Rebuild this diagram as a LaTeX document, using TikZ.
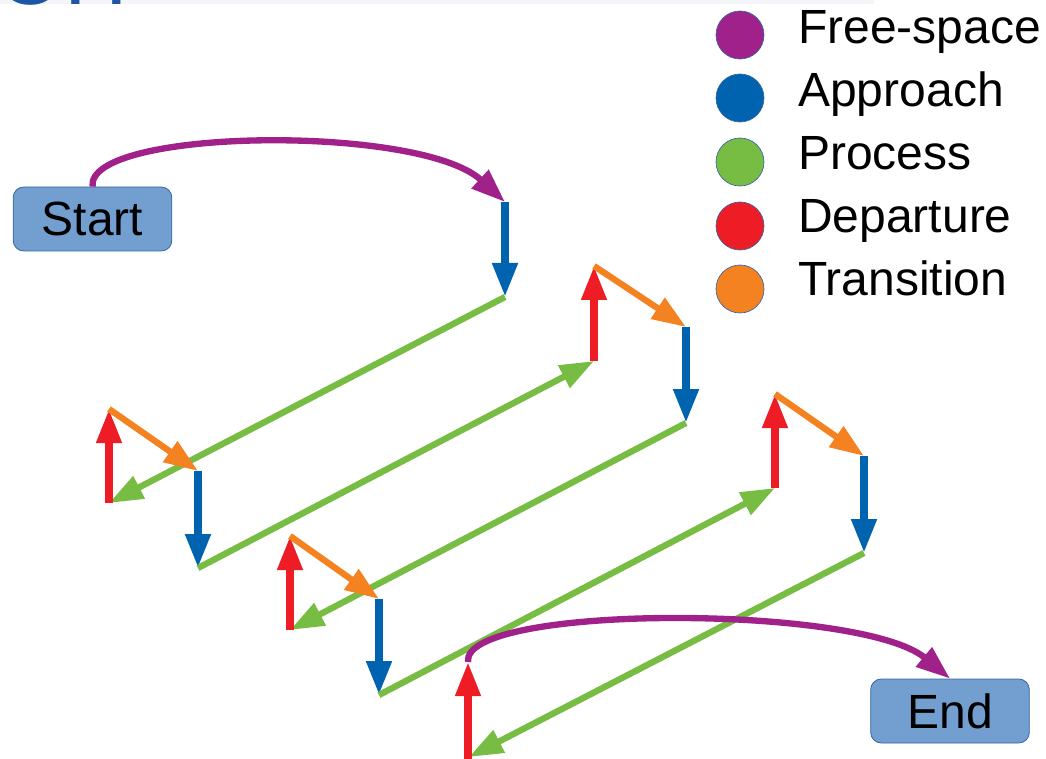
\documentclass[tikz,border=0pt]{standalone}
\usepackage{fontspec}
\setmainfont{Liberation Sans}
\usetikzlibrary{arrows.meta}
\definecolor{cfree}{HTML}{A1218B}
\definecolor{cappr}{HTML}{0063B0}
\definecolor{cproc}{HTML}{77BC43}
\definecolor{cdep}{HTML}{EE1C25}
\definecolor{ctrans}{HTML}{F58220}
\definecolor{boxfill}{HTML}{729FCF}
\definecolor{boxline}{HTML}{3465A4}
\definecolor{titleblue}{HTML}{1F55A5}
\definecolor{bandgray}{HTML}{F3F5F9}
\begin{document}
\begin{tikzpicture}[x=0.75pt,y=-0.75pt,
  tipped/.style={-{Triangle[length=25.5pt,width=18pt]}},
  freespace/.style={tipped,draw=cfree,line width=4.75pt},
  approach/.style={tipped,draw=cappr,line width=5.75pt},
  process/.style={tipped,draw=cproc,line width=4.75pt},
  departure/.style={tipped,draw=cdep,line width=5.5pt},
  transition/.style={tipped,draw=ctrans,line width=4.75pt},
  termbox/.style={draw=boxline,fill=boxfill,rounded corners=8pt,line width=0.6pt,
    minimum width=119pt,minimum height=48pt,inner sep=0pt,
    font=\fontsize{36}{42}\selectfont},
  legdot/.style={circle,draw=boxline,line width=0.5pt,minimum size=36pt,inner sep=0pt},
  legtext/.style={anchor=base west,inner sep=0pt,font=\fontsize{36}{42}\selectfont}]
\useasboundingbox (0,0) rectangle (1046,759);
% top strip with cut-off title
\fill[bandgray] (0,0) rectangle (874,4);
\begin{scope}
  \clip (0,0) rectangle (300,7);
  \node[anchor=base west,inner sep=0pt,text=titleblue,font=\fontsize{66}{70}\selectfont] (title) at (-4,5) {OH};
\end{scope}
% terminals
\node[termbox] (start) at (92.5,219) {Start};
\node[termbox] (end) at (950,711) {End};
% legend
\node[legdot,fill=cfree]  (leg1) at (740,35) {};
\node[legdot,fill=cappr]  (leg2) at (740,98) {};
\node[legdot,fill=cproc]  (leg3) at (740,162) {};
\node[legdot,fill=cdep]   (leg4) at (740,226) {};
\node[legdot,fill=ctrans] (leg5) at (740,289) {};
\node[legtext] (lt1) at (798,44) {Free-space};
\node[legtext] (lt2) at (798,107) {Approach};
\node[legtext] (lt3) at (798,170) {Process};
\node[legtext] (lt4) at (798,233) {Departure};
\node[legtext] (lt5) at (798,296) {Transition};
% waypoints
\coordinate (a1) at (505,202);
\coordinate (a2) at (505,297);
\coordinate (b1) at (109,503);
\coordinate (b2) at (109,409);
\coordinate (b3) at (198,471);
\coordinate (b4) at (198,568);
\coordinate (c1) at (594,361);
\coordinate (c2) at (594,266);
\coordinate (c3) at (686,327);
\coordinate (c4) at (686,423);
\coordinate (d1) at (290,630);
\coordinate (d2) at (290,536);
\coordinate (d3) at (379,599);
\coordinate (d4) at (379,695);
\coordinate (e1) at (775,488);
\coordinate (e2) at (775,394);
\coordinate (e3) at (864,456);
\coordinate (e4) at (864,553);
\coordinate (f1) at (469,757);
\coordinate (f0) at (468,762);
\coordinate (f2) at (468,662);
% path
\draw[freespace] (start.north) .. controls (86,128) and (420,124) .. (a1);
\draw[approach] (a1) -- (a2);
\draw[process] (a2) -- (b1);
\draw[departure] (b1) -- (b2);
\draw[transition] (b2) -- (b3);
\draw[approach] (b3) -- (b4);
\draw[process] (b4) -- (c1);
\draw[departure] (c1) -- (c2);
\draw[transition] (c2) -- (c3);
\draw[approach] (c3) -- (c4);
\draw[process] (c4) -- (d1);
\draw[departure] (d1) -- (d2);
\draw[transition] (d2) -- (d3);
\draw[approach] (d3) -- (d4);
\draw[process] (d4) -- (e1);
\draw[departure] (e1) -- (e2);
\draw[transition] (e2) -- (e3);
\draw[approach] (e3) -- (e4);
\draw[process] (e4) -- (f1);
\draw[departure] (f0) -- (f2);
\draw[freespace] (f2) .. controls (461,604) and (860,604) .. (end.north);
\end{tikzpicture}
\end{document}
